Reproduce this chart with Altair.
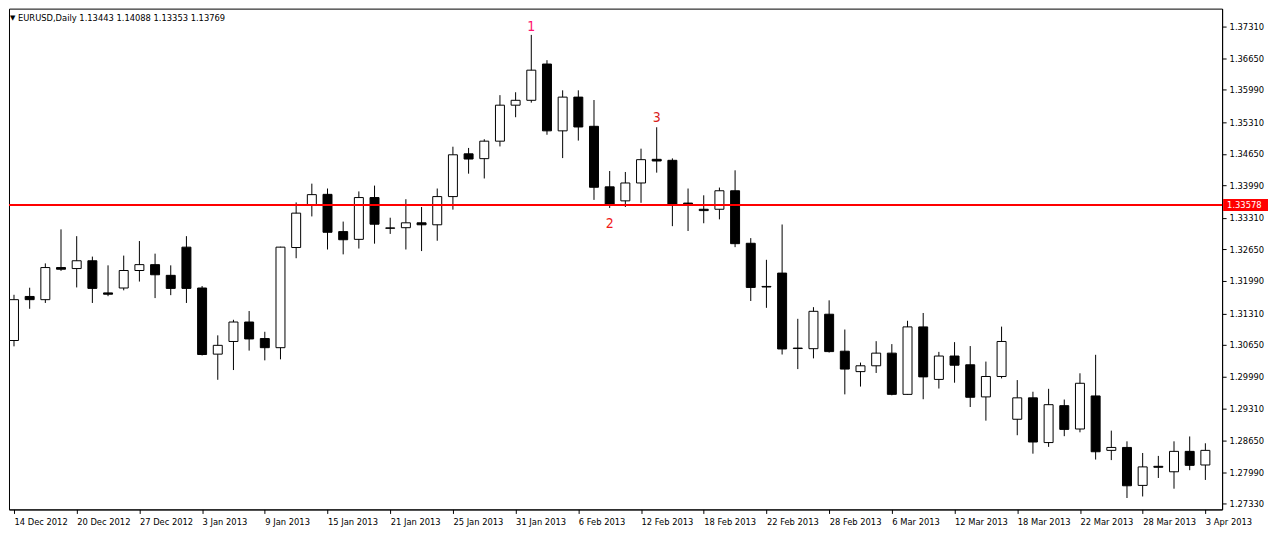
import altair as alt
import pandas as pd

# ---------------- data ----------------
title_text = "EURUSD,Daily  1.13443 1.14088 1.13353 1.13769"

x_tick_labels = ["14 Dec 2012", "20 Dec 2012", "27 Dec 2012", "3 Jan 2013", "9 Jan 2013",
                 "15 Jan 2013", "21 Jan 2013", "25 Jan 2013", "31 Jan 2013", "6 Feb 2013",
                 "12 Feb 2013", "18 Feb 2013", "22 Feb 2013", "28 Feb 2013", "6 Mar 2013",
                 "12 Mar 2013", "18 Mar 2013", "22 Mar 2013", "28 Mar 2013", "3 Apr 2013"]

y_ticks = [1.37310, 1.36650, 1.35990, 1.35310, 1.34650, 1.33990, 1.33310, 1.32650,
           1.31990, 1.31310, 1.30650, 1.29990, 1.29310, 1.28650, 1.27990, 1.27330]

opens = [1.30743, 1.31665, 1.31598, 1.32270, 1.32249, 1.32412, 1.31740, 1.31842, 1.32208, 1.32331,
         1.32107, 1.32697, 1.31842, 1.30458, 1.30723, 1.31130, 1.30784, 1.30593, 1.32689, 1.33578,
         1.33802, 1.33022, 1.32860, 1.33735, 1.33100, 1.33104, 1.33206, 1.33165, 1.33755, 1.34650,
         1.34549, 1.34915, 1.35668, 1.35770, 1.36529, 1.35131, 1.35837, 1.35226, 1.33959, 1.33666,
         1.34040, 1.34535, 1.34514, 1.33619, 1.33490, 1.33490, 1.33877, 1.32778, 1.31875, 1.32154,
         1.30585, 1.30572, 1.31293, 1.30519, 1.30092, 1.30214, 1.30479, 1.29616, 1.31028, 1.29929,
         1.30418, 1.30235, 1.29563, 1.29990, 1.29095, 1.29543, 1.28607, 1.29380, 1.28891, 1.29583,
         1.28444, 1.28505, 1.27711, 1.28110, 1.27996, 1.28423, 1.28138]
highs = [1.31700, 1.31848, 1.32357, 1.33069, 1.32927, 1.32499, 1.32316, 1.32520, 1.32825, 1.32561,
         1.32316, 1.32927, 1.31883, 1.30851, 1.31177, 1.31360, 1.30926, 1.32705, 1.33633, 1.34026,
         1.33924, 1.33232, 1.33863, 1.33985, 1.33313, 1.33700, 1.33537, 1.33924, 1.34799, 1.34773,
         1.34956, 1.35878, 1.35939, 1.37139, 1.36610, 1.35979, 1.35979, 1.35776, 1.34290, 1.34270,
         1.34758, 1.35206, 1.34555, 1.33924, 1.33782, 1.33944, 1.34305, 1.32886, 1.32432, 1.33171,
         1.31197, 1.31441, 1.31584, 1.30973, 1.30281, 1.30729, 1.30668, 1.31156, 1.31319, 1.30505,
         1.30709, 1.30627, 1.30302, 1.31034, 1.29915, 1.29671, 1.29732, 1.29508, 1.30057, 1.30444,
         1.28857, 1.28633, 1.28389, 1.28328, 1.28633, 1.28735, 1.28592]
lows = [1.30621, 1.31407, 1.31529, 1.32200, 1.31854, 1.31529, 1.31671, 1.31793, 1.31977, 1.31631,
        1.31692, 1.31529, 1.30430, 1.29921, 1.30125, 1.30532, 1.30328, 1.30349, 1.32465, 1.33340,
        1.32648, 1.32546, 1.32668, 1.32770, 1.32974, 1.32648, 1.32615, 1.32831, 1.33482, 1.34235,
        1.34134, 1.34805, 1.35416, 1.35721, 1.35049, 1.34561, 1.34927, 1.33686, 1.33517, 1.33537,
        1.33625, 1.34256, 1.33136, 1.33035, 1.33197, 1.33279, 1.32697, 1.31570, 1.31427, 1.30450,
        1.30145, 1.30369, 1.30491, 1.29616, 1.29779, 1.30064, 1.29596, 1.29610, 1.29514, 1.29738,
        1.29860, 1.29351, 1.29066, 1.29950, 1.28761, 1.28375, 1.28517, 1.28741, 1.28822, 1.28252,
        1.28240, 1.27447, 1.27479, 1.27866, 1.27642, 1.28029, 1.27825]
closes = [1.31598, 1.31598, 1.32270, 1.32235, 1.32412, 1.31834, 1.31712, 1.32208, 1.32331, 1.32119,
          1.31834, 1.31834, 1.30450, 1.30642, 1.31130, 1.30776, 1.30593, 1.32697, 1.33409, 1.33796,
          1.33008, 1.32852, 1.33735, 1.33177, 1.33092, 1.33206, 1.33165, 1.33755, 1.34630, 1.34541,
          1.34915, 1.35668, 1.35770, 1.36401, 1.35131, 1.35837, 1.35212, 1.33950, 1.33598, 1.34040,
          1.34528, 1.34500, 1.33598, 1.33604, 1.33462, 1.33877, 1.32770, 1.31854, 1.31863, 1.30566,
          1.30575, 1.31354, 1.30511, 1.30145, 1.30214, 1.30479, 1.29616, 1.31028, 1.29982, 1.30418,
          1.30226, 1.29555, 1.29990, 1.30723, 1.29543, 1.28619, 1.29400, 1.28883, 1.29848, 1.28415,
          1.28505, 1.27703, 1.28098, 1.28090, 1.28423, 1.28130, 1.28444]

level_price = 1.33578
level_label = "1.33578"

ann_labels = ["1", "2", "3"]
ann_bar = [33, 38, 41]
ann_price = [1.37296, 1.33191, 1.35410]
ann_colors = ["#FF1470", "#F01818", "#D82020"]

# ---------------- layout ----------------
W, H = 1216, 502
X_DOMAIN = [0, 76.75]
Y_DOMAIN = [1.27208, 1.37689]
FONT = "Tahoma, 'DejaVu Sans Condensed', 'DejaVu Sans', sans-serif"
FS = 9.3

n = len(opens)
df = pd.DataFrame({"i": list(range(n)), "open": opens, "high": highs,
                   "low": lows, "close": closes})
df["dir"] = ["up" if c > o else "down" for o, c in zip(opens, closes)]

xs = alt.Scale(domain=X_DOMAIN, nice=False, zero=False)
ys = alt.Scale(domain=Y_DOMAIN, nice=False, zero=False)

label_js = "[" + ",".join("'" + s + "'" for s in x_tick_labels) + "]"
x_axis = alt.Axis(values=list(range(0, 4 * len(x_tick_labels), 4)),
                  labelExpr=label_js + "[round(datum.value/4)]",
                  labelAlign="left", labelBaseline="top", labelPadding=4, tickSize=4,
                  grid=False, labelFont=FONT, labelFontSize=FS, labelColor="black",
                  domainColor="black", tickColor="black", labelOverlap=False,
                  labelFlush=False, labelBound=False)
y_axis = alt.Axis(orient="right", values=y_ticks, format=".5f", tickSize=4,
                  labelPadding=3, grid=False, labelFont=FONT, labelFontSize=FS,
                  labelColor="black", domainColor="black", tickColor="black",
                  labelOverlap=False, labelFlush=False)


def X(field):
    return alt.X(field, scale=xs, axis=x_axis, title=None)


def Y(field):
    return alt.Y(field, scale=ys, axis=y_axis, title=None)


base = alt.Chart(df)

wicks = base.mark_rule(color="black", strokeWidth=1, clip=True).encode(
    x=X("i:Q"), y=Y("low:Q"), y2="high:Q")

bodies = base.mark_bar(size=9, stroke="black", strokeWidth=1, clip=True).encode(
    x=X("i:Q"), y=Y("open:Q"), y2="close:Q",
    fill=alt.Fill("dir:N", scale=alt.Scale(domain=["up", "down"], range=["white", "black"]),
                  legend=None))

level_df = pd.DataFrame({"p": [level_price], "label": [level_label]})
level_line = alt.Chart(level_df).mark_rule(color="#FF0000", strokeWidth=2).encode(y=Y("p:Q"))
level_box = alt.Chart(level_df).mark_rect(color="#FF0000", yOffset=-6, y2Offset=6).encode(
    x=alt.value(W + 1), x2=alt.value(W + 46), y=Y("p:Q"), y2="p:Q")
level_text = alt.Chart(level_df).mark_text(color="white", align="left", baseline="middle",
                                           font=FONT, fontSize=FS).encode(
    x=alt.value(W + 5), y=Y("p:Q"), text="label:N")

ann_df = pd.DataFrame({"lab": ann_labels, "i": ann_bar, "p": ann_price})
ann = alt.Chart(ann_df).mark_text(font=FONT, fontSize=14, baseline="middle", align="center").encode(
    x=X("i:Q"), y=Y("p:Q"), text="lab:N",
    color=alt.Color("lab:N", scale=alt.Scale(domain=ann_labels, range=ann_colors), legend=None))

title_df = pd.DataFrame({"t": [title_text], "m": ["\u25BC"]})
title_mark = alt.Chart(title_df).mark_text(font=FONT, fontSize=FS, align="left",
                                           baseline="middle", color="black").encode(
    x=alt.value(9), y=alt.value(9), text="t:N")
title_tri = alt.Chart(title_df).mark_text(font="DejaVu Sans", fontSize=7, align="left",
                                          baseline="middle", color="black").encode(
    x=alt.value(1), y=alt.value(9), text="m:N")

chart = alt.layer(wicks, bodies, level_line, level_box, level_text, ann, title_mark, title_tri
                  ).properties(width=W, height=H, padding=0, background="white"
                  ).configure_view(stroke="black", strokeWidth=1)

chart.save("out.html", embed_options={"renderer": "svg", "actions": False})
